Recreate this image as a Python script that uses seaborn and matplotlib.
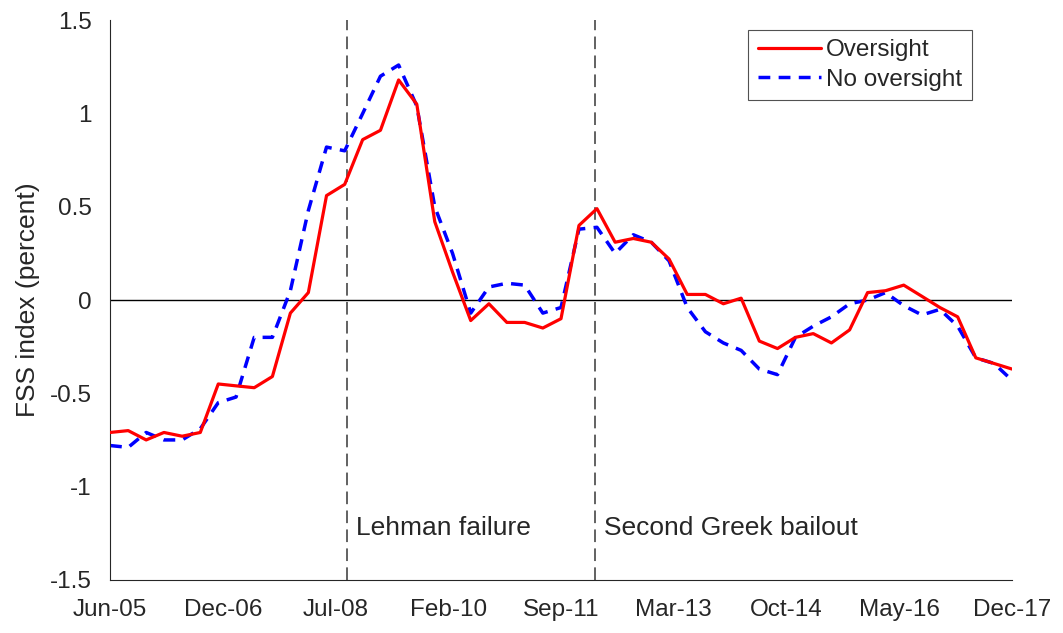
import matplotlib
matplotlib.use("Agg")
import matplotlib.pyplot as plt
import matplotlib.dates as mdates
import numpy as np
import pandas as pd
import seaborn as sns

# quarterly observations, Jun-05 .. Dec-17
dates = pd.date_range("2005-06-01", "2017-12-01", freq="3MS")

oversight = [-0.71, -0.70, -0.75, -0.71, -0.73, -0.71, -0.45, -0.46, -0.47, -0.41,
             -0.07, 0.04, 0.56, 0.62, 0.86, 0.91, 1.18, 1.05, 0.42, 0.15,
             -0.11, -0.02, -0.12, -0.12, -0.15, -0.10, 0.40, 0.49, 0.31, 0.33,
             0.31, 0.22, 0.03, 0.03, -0.02, 0.01, -0.22, -0.26, -0.20, -0.18,
             -0.23, -0.16, 0.04, 0.05, 0.08, 0.02, -0.04, -0.09, -0.31, -0.34,
             -0.37]
no_oversight = [-0.78, -0.79, -0.71, -0.75, -0.75, -0.69, -0.55, -0.52, -0.20, -0.20,
                0.05, 0.48, 0.82, 0.80, 1.00, 1.20, 1.26, 1.04, 0.50, 0.25,
                -0.07, 0.07, 0.09, 0.08, -0.07, -0.04, 0.38, 0.39, 0.25, 0.35,
                0.31, 0.21, -0.04, -0.17, -0.23, -0.27, -0.37, -0.40, -0.20, -0.14,
                -0.09, -0.02, 0.00, 0.04, -0.03, -0.08, -0.05, -0.14, -0.31, -0.34,
                -0.43]

event_dates = pd.to_datetime(["2008-09-15", "2012-02-21"])
event_labels = ["Lehman failure", "Second Greek bailout"]

sns.set_style("white")
plt.rcParams["font.family"] = ["Liberation Sans", "DejaVu Sans"]

df = pd.DataFrame({"date": dates, "Oversight": oversight, "No oversight": no_oversight})

fig = plt.figure(figsize=(10.63, 6.33), dpi=100)
ax = fig.add_axes([0.1035, 0.084, 0.8485, 0.884])

ax.axhline(0, color="black", lw=1.0, zorder=1)
for d, lab in zip(event_dates, event_labels):
    ax.axvline(d, color="#555555", lw=1.3, ls=(0, (7, 3.5)), zorder=1)
    ax.text(d + pd.Timedelta(days=45), -1.22, lab, fontsize=19, color="#262626",
            va="center", ha="left")

sns.lineplot(data=df, x="date", y="Oversight", ax=ax, color="red", lw=2.3,
             label="Oversight", zorder=3)
sns.lineplot(data=df, x="date", y="No oversight", ax=ax, color="blue", lw=2.5,
             ls=(0, (3.4, 2.4)), label="No oversight", zorder=2)

x0, x1 = mdates.date2num(dates[0]), mdates.date2num(dates[-1])
ax.set_xlim(x0, x1)
ticks = np.linspace(x0, x1, 9)
ax.set_xticks(ticks)
ax.set_xticklabels([mdates.num2date(t).strftime("%b-%y") for t in ticks])
ax.set_ylim(-1.5, 1.5)
ax.set_yticks([-1.5, -1, -0.5, 0, 0.5, 1, 1.5])
ax.set_yticklabels(["-1.5", "-1", "-0.5", "0", "0.5", "1", "1.5"])

ax.set_xlabel("")
ax.set_ylabel("FSS index (percent)", fontsize=19, color="#262626", labelpad=7)
ax.tick_params(axis="both", direction="in", length=5, width=0.8, labelsize=17.5,
               colors="#262626")
ax.tick_params(axis="x", pad=14)
ax.tick_params(axis="y", pad=13)
for side in ["top", "right"]:
    ax.spines[side].set_visible(False)
for side in ["left", "bottom"]:
    ax.spines[side].set_color("#262626")
    ax.spines[side].set_linewidth(0.8)

leg = ax.legend(loc="upper right", bbox_to_anchor=(0.961, 0.992), fontsize=17.5,
                frameon=True, fancybox=False, handlelength=2.6, handletextpad=0.2,
                borderpad=0.4, labelspacing=0.3, borderaxespad=0.2)
leg.get_frame().set_edgecolor("#262626")
leg.get_frame().set_linewidth(0.8)

fig.savefig("out.png", dpi=100)
